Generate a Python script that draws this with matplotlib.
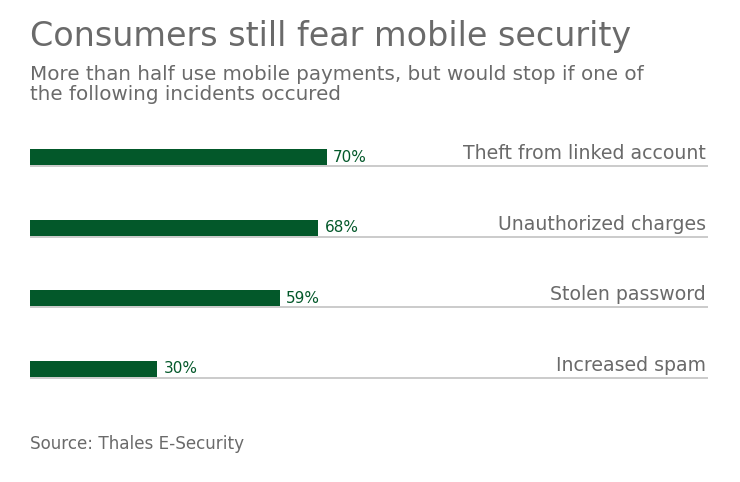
import matplotlib.pyplot as plt

# data
categories = ['Theft from linked account', 'Unauthorized charges',
              'Stolen password', 'Increased spam']
shares = [70, 68, 59, 30]

title = 'Consumers still fear mobile security'
subtitle = 'More than half use mobile payments, but would stop if one of\nthe following incidents occured'
source = 'Source: Thales E-Security'

green = '#03582a'
grey_text = '#6a6a6a'
grey_line = '#bdbdbd'

plt.rcParams['font.family'] = ['DejaVu Sans']

fig = plt.figure(figsize=(7.4, 4.82), dpi=100)
ax = fig.add_axes([30 / 740, 78 / 482, 678 / 740, 282 / 482])

bar_h = 0.227
ypos = list(range(len(categories)))
ax.barh(ypos, shares, height=bar_h, color=green, align='center')

for y, cat, val in zip(ypos, categories, shares):
    base = y + bar_h / 2
    # thin grey rule under each bar across the full width
    ax.plot([0, 160], [base + 0.012, base + 0.012], color=grey_line, lw=1.1,
            solid_capstyle='butt', zorder=0)
    ax.annotate(f'{val}%', xy=(val, base), xytext=(4.5, 2.5),
                textcoords='offset points', ha='left', va='baseline',
                fontsize=11, color=green)
    ax.annotate(cat, xy=(160, base), xytext=(-1.5, 4.5),
                textcoords='offset points', ha='right', va='baseline',
                fontsize=13.6, color=grey_text)

ax.set_xlim(0, 160)
ax.set_ylim(3.5, -0.5)
ax.axis('off')

fig.text(30 / 740, 1 - 46 / 482, title, fontsize=24, color=grey_text,
         ha='left', va='baseline')
fig.text(30 / 740, 1 - 100 / 482, subtitle, fontsize=14.3, color=grey_text,
         ha='left', va='baseline', linespacing=1.1)
fig.text(30 / 740, 1 - 449 / 482, source, fontsize=12.1, color=grey_text,
         ha='left', va='baseline')

fig.savefig('out.png', dpi=100)
